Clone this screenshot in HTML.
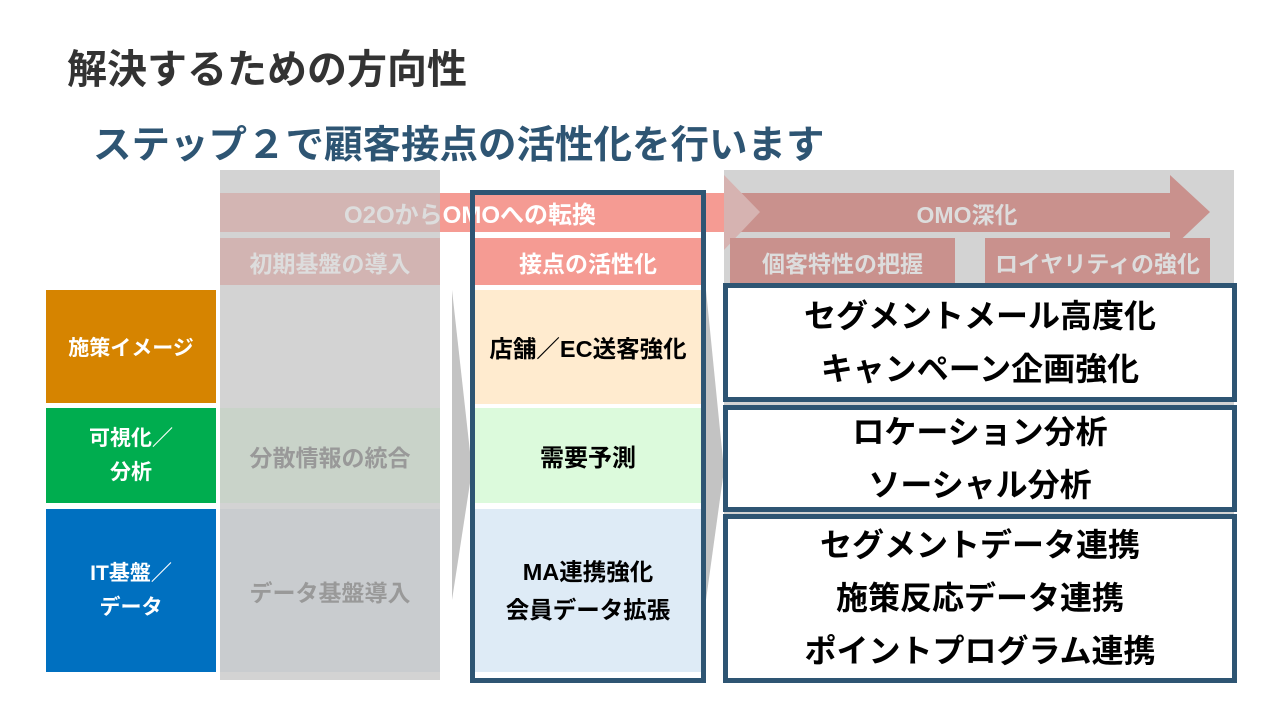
<!DOCTYPE html>
<html><head><meta charset="utf-8"><style>
body{margin:0;width:1280px;height:720px;background:#fff;position:relative;overflow:hidden;font-family:"Liberation Sans","Noto Sans CJK JP",sans-serif;font-weight:bold}
.a{position:absolute;box-sizing:border-box}
.c{display:flex;align-items:center;justify-content:center;text-align:center}
.rb{border:5px solid #2e5573;background:#fff;color:#000;font-size:32px;line-height:53px;flex-direction:column}
</style></head><body>
<div class="a" style="left:67px;top:44px;font-size:40px;color:#333;line-height:52px">解決するための方向性</div>
<div class="a" style="left:93px;top:120px;font-size:38.5px;color:#2e5573;line-height:52px">ステップ２で顧客接点の活性化を行います</div>

<div class="a" style="left:220px;top:170px;width:220px;height:510px;background:#d3d3d3"></div>
<div class="a c" style="left:220px;top:408px;width:220px;height:95px;background:#c9d3c9;color:#999;font-size:23px">分散情報の統合</div>
<div class="a c" style="left:220px;top:509px;width:220px;height:163px;background:#c9cccf;color:#999;font-size:23px">データ基盤導入</div>
<div class="a c" style="left:220px;top:238px;width:220px;height:47px;background:#d2b4b2;color:#ddd;font-size:23px">初期基盤の導入</div>

<div class="a" style="left:724px;top:170px;width:510px;height:510px;background:#d3d3d3"></div>
<svg class="a" style="left:0;top:0" width="1280" height="720">
<polygon points="724,193 1170,193 1170,175 1210,212 1170,250 1170,232 724,232" fill="#c9918d"/>
<polygon points="724,175 760,212 724,250" fill="#d6b3b1"/>
<polygon points="452,290 472,470 452,600" fill="#c3c3c3"/>
<polygon points="706,290 724,470 706,600" fill="#c3c3c3"/>
</svg>

<div class="a c" style="left:46px;top:290px;width:170px;height:113px;background:#d68400;color:#fff;font-size:21px">施策イメージ</div>
<div class="a c" style="left:46px;top:408px;width:170px;height:95px;background:#00ad4f;color:#fff;font-size:21px;line-height:34px">可視化／<br>分析</div>
<div class="a c" style="left:46px;top:509px;width:170px;height:163px;background:#0070c0;color:#fff;font-size:21px;line-height:34px">IT基盤／<br>データ</div>

<div class="a" style="left:470px;top:190px;width:236px;height:493px;background:#fff"></div>
<div class="a c" style="left:475px;top:238px;width:226px;height:47px;background:#f59b93;color:#fff;font-size:23px">接点の活性化</div>
<div class="a c" style="left:475px;top:290px;width:226px;height:114px;background:#ffebcf;color:#000;font-size:23.5px">店舗／EC送客強化</div>
<div class="a c" style="left:475px;top:408px;width:226px;height:95px;background:#dcfadc;color:#000;font-size:24px">需要予測</div>
<div class="a c" style="left:475px;top:509px;width:226px;height:163px;background:#deebf6;color:#000;font-size:23.5px;line-height:38px">MA連携強化<br>会員データ拡張</div>

<div class="a" style="left:220px;top:193px;width:220px;height:39px;background:#d3b5b3"></div>
<div class="a" style="left:440px;top:193px;width:284px;height:39px;background:#f59b93"></div>
<div class="a c" style="left:218px;top:193px;width:504px;height:39px;font-size:24px;color:#fff"><span><span style="color:#ddd">O2Oから</span>OMOへの転換</span></div>
<div class="a c" style="left:724px;top:193px;width:486px;height:39px;font-size:23px;color:#ddd">OMO深化</div>
<div class="a c" style="left:730px;top:238px;width:225px;height:47px;background:#c9918d;color:#ddd;font-size:23px">個客特性の把握</div>
<div class="a c" style="left:985px;top:238px;width:225px;height:47px;background:#c9918d;color:#ddd;font-size:23px">ロイヤリティの強化</div>

<div class="a" style="left:470px;top:190px;width:236px;height:493px;border:5px solid #2e5573"></div>

<div class="a c rb" style="left:723px;top:283px;width:514px;height:119px">セグメントメール高度化<br>キャンペーン企画強化</div>
<div class="a c rb" style="left:723px;top:405px;width:514px;height:107px">ロケーション分析<br>ソーシャル分析</div>
<div class="a c rb" style="left:723px;top:514px;width:514px;height:169px">セグメントデータ連携<br>施策反応データ連携<br>ポイントプログラム連携</div>
</body></html>
